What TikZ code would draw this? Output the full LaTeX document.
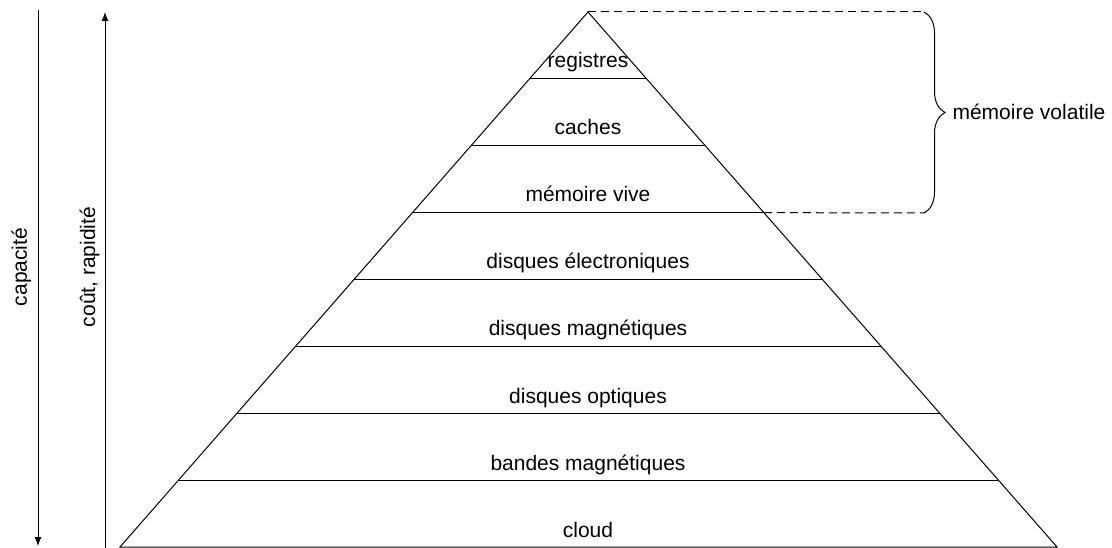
\documentclass[tikz,border=0pt]{standalone}
\usepackage{fontspec}
\setmainfont{Liberation Sans}
\usetikzlibrary{arrows.meta,calc,decorations.pathreplacing}

\begin{document}
\begin{tikzpicture}[x=1pt,y=-1pt,line width=1pt,
    layer/.style ={anchor=base, font=\fontsize{21}{25}\selectfont},
    side/.style ={anchor=base, rotate=90, font=\fontsize{21}{25}\selectfont},
    axis/.style ={-{Latex[length=9pt,width=7pt]}},
    bound/.style ={dash pattern=on 8pt off 5pt}]
   \useasboundingbox (0,0) rectangle (1112,548);
   % pyramid
   \coordinate (T) at (588,12);
   \coordinate (L) at (120,547);
   \coordinate (R) at (1057,547);
   \draw (L) -- (T) -- (R) -- cycle;
   \foreach \k in {1,...,7} {
     \coordinate (l\k) at ($(T)!\k/8!(L)$);
     \coordinate (r\k) at ($(T)!\k/8!(R)$);
     \draw (l\k) -- (r\k);
   }
   \node[layer] (registres) at (588,68)  {registres};
   \node[layer] (caches)    at (588,135) {caches};
   \node[layer] (vive)      at (588,202) {mémoire vive};
   \node[layer] (electro)   at (588,269) {disques électroniques};
   \node[layer] (magn)      at (588,336) {disques magnétiques};
   \node[layer] (optiques)  at (588,403) {disques optiques};
   \node[layer] (bandes)    at (588,470) {bandes magnétiques};
   \node[layer] (cloud)     at (588,537) {cloud};
   % volatile memory
   \coordinate (b1) at (924,12);
   \coordinate (b2) at (924,213);
   \draw[bound] (T) to (b1);
   \draw[bound] (r3) to (b2);
   \draw[decorate, decoration={brace, amplitude=21pt}] (b1) to (b2);
   \node[anchor=west, inner sep=3pt, font=\fontsize{21}{25}\selectfont]
     (volatile) at (949,112) {mémoire volatile};
   % axes
   \coordinate (c1) at (38,10);
   \coordinate (c2) at (38,546);
   \coordinate (p1) at (105,548);
   \coordinate (p2) at (105,12);
   \draw[axis] (c1) to (c2);
   \draw[axis] (p1) to (p2);
   \node[side] (capacite) at (27,267) {capacité};
   \node[side] (cout)     at (95,267) {coût, rapidité};
 \end{tikzpicture}
\end{document}
